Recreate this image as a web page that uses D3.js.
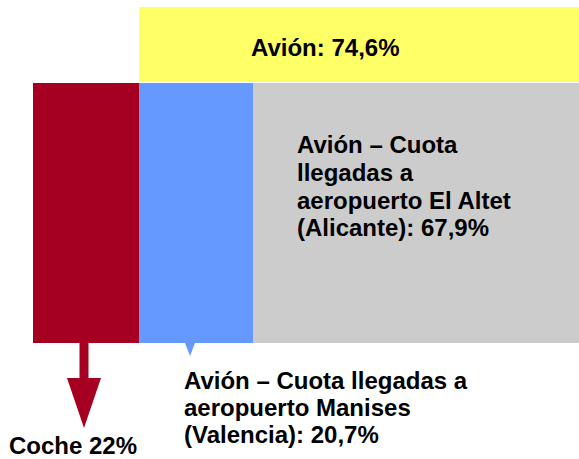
<!DOCTYPE html>
<html>
<head>
<meta charset="utf-8">
<script src="https://cdn.jsdelivr.net/npm/d3@7"></script>
<style>
  body { margin: 0; background: #fff; }
  text { font-family: "Liberation Sans", Arial, sans-serif; font-weight: bold; font-size: 24px; fill: #000; }
</style>
</head>
<body>
<script>
// shares (%)
var totalLabel = "Avión: 74,6%";
var segments = ["Coche", "Manises", "Alicante"];
var values = [22, 20.7, 67.9];
var colors = ["#A50021", "#6699FF", "#CCCCCC"];
var labels = [
  ["Coche 22%"],
  ["Avión – Cuota llegadas a", "aeropuerto Manises", "(Valencia): 20,7%"],
  ["Avión – Cuota", "llegadas a", "aeropuerto El Altet", "(Alicante): 67,9%"]
];

var W = 579, H = 459;
var svg = d3.select("body").append("svg").attr("width", W).attr("height", H);

// cumulative starts
var starts = [];
var acc = 0;
values.forEach(function(v) { starts.push(acc); acc += v; });

// piecewise scale, breaks at segment edges
var x = d3.scaleLinear()
  .domain([0, starts[1], starts[2], acc])
  .range([33, 139, 253, 579]);

var topY = 7, topH = 75, rowY = 83, rowH = 260;

// yellow: plane total spans the two airport segments
svg.append("rect")
  .attr("x", x(starts[1])).attr("y", topY)
  .attr("width", x(acc) - x(starts[1])).attr("height", topH)
  .style("fill", "#FFFF66");
svg.append("text").attr("x", 251).attr("y", 56).text(totalLabel);

svg.selectAll("rect.seg").data(values).enter().append("rect")
  .attr("class", "seg")
  .attr("x", function(d, i) { return x(starts[i]); })
  .attr("y", rowY)
  .attr("width", function(d, i) { return x(starts[i] + d) - x(starts[i]); })
  .attr("height", rowH)
  .style("fill", function(d, i) { return colors[i]; });

var bottom = rowY + rowH;

// arrow under the car bar
var ax = 84;
svg.append("rect").attr("x", ax - 4.5).attr("y", bottom).attr("width", 9).attr("height", 36)
  .style("fill", colors[0]);
svg.append("path")
  .attr("d", "M" + (ax - 17) + "," + (bottom + 35) + "L" + (ax + 17) + "," + (bottom + 35) + "L" + ax + "," + (bottom + 85) + "Z")
  .style("fill", colors[0]);

// little pointer under the Manises bar
var px = 190;
svg.append("path")
  .attr("d", "M" + (px - 5) + "," + bottom + "L" + (px + 5) + "," + bottom + "L" + px + "," + (bottom + 13) + "Z")
  .style("fill", colors[1]);

// labels
function block(lines, x0, y0, lh) {
  var t = svg.append("text").attr("x", x0).attr("y", y0);
  lines.forEach(function(l, i) {
    t.append("tspan").attr("x", x0).attr("y", y0 + i * lh).text(l);
  });
}
block(labels[0], 9, 454, 27);
block(labels[1], 184, 389, 27);
block(labels[2], 297, 153, 27.8);
</script>
</body>
</html>
